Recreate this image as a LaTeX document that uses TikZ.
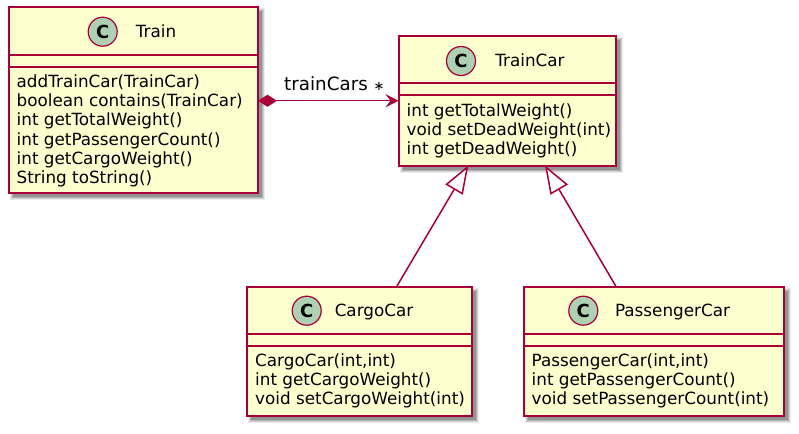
\documentclass[tikz,border=0pt]{standalone}
\usepackage{fontspec}
\setmainfont{DejaVu Sans}
\usetikzlibrary{arrows.meta}
\definecolor{umlborder}{HTML}{A80036}
\definecolor{umlfill}{HTML}{FEFECE}
\definecolor{umlbadge}{HTML}{ADD1B2}
\tikzset{
  classbox/.style={draw=umlborder, fill=umlfill, line width=2pt, inner sep=0pt, outer sep=0pt},
  sepline/.style={draw=umlborder, line width=2pt},
  badge/.style={circle, draw=umlborder, fill=umlbadge, line width=1.2pt, minimum size=29pt, inner sep=0pt,
    font=\fontsize{18}{18}\selectfont\bfseries},
  cname/.style={anchor=base, inner sep=0pt, font=\fontsize{16.8}{19}\selectfont},
  member/.style={anchor=base west, inner sep=0pt, font=\fontsize{16.8}{19}\selectfont},
  lbl/.style={anchor=base, inner sep=0pt, font=\fontsize{18.3}{19}\selectfont},
  mult/.style={anchor=base, inner sep=0pt, font=\fontsize{13}{13}\selectfont},
  assoc/.style={draw=umlborder, line width=1.5pt},
  inherit/.style={draw=umlborder, line width=1.5pt, -{Triangle[length=28pt,width=20pt,fill=white]}},
}
\newcommand\boxshadow[4]{%
  \foreach \e/\o in {3/0.08,2/0.11,1/0.14,0/0.18}{%
    \fill[black, opacity=\o] (#1+4-\e,#2+4-\e) rectangle (#3+4+\e,#4+4+\e);}%
}
\begin{document}
\begin{tikzpicture}[x=1pt, y=-1pt]
\useasboundingbox (0,0) rectangle (799,433);
% ---------- Train ----------
\boxshadow{8.5}{7.5}{258}{193}
\node[classbox, minimum width=249.5pt, minimum height=185.5pt] (train) at (133.25,100.25) {};
\draw[sepline] (train.west |- 0,55) -- (train.east |- 0,55);
\draw[sepline] (train.west |- 0,67) -- (train.east |- 0,67);
\node[badge] (train-c) at (102.7,31.7) {C};
\node[cname] (train-n) at (156,37.2) {Train};
\foreach \t [count=\i from 0] in {addTrainCar(TrainCar), boolean contains(TrainCar), int getTotalWeight(),
  int getPassengerCount(), int getCargoWeight(), String toString()}
  \node[member] (train-m\i) at (16.5,87.5+19.2*\i) {\t};
% ---------- TrainCar ----------
\boxshadow{398.5}{36}{615.5}{165.5}
\node[classbox, minimum width=217pt, minimum height=129.5pt] (traincar) at (507,100.75) {};
\draw[sepline] (traincar.west |- 0,83.5) -- (traincar.east |- 0,83.5);
\draw[sepline] (traincar.west |- 0,95.5) -- (traincar.east |- 0,95.5);
\node[badge] (traincar-c) at (461,61) {C};
\node[cname] (traincar-n) at (530,66.5) {TrainCar};
\foreach \t [count=\i from 0] in {int getTotalWeight(), void setDeadWeight(int), int getDeadWeight()}
  \node[member] (traincar-m\i) at (406.5,116.5+19.2*\i) {\t};
% ---------- CargoCar ----------
\boxshadow{247}{286.5}{471.5}{416}
\node[classbox, minimum width=224.5pt, minimum height=129.5pt] (cargocar) at (359.25,351.25) {};
\draw[sepline] (cargocar.west |- 0,333.5) -- (cargocar.east |- 0,333.5);
\draw[sepline] (cargocar.west |- 0,345.5) -- (cargocar.east |- 0,345.5);
\node[badge] (cargocar-c) at (306.7,310.7) {C};
\node[cname] (cargocar-n) at (374,316.2) {CargoCar};
\foreach \t [count=\i from 0] in {{CargoCar(int,int)}, int getCargoWeight(), void setCargoWeight(int)}
  \node[member] (cargocar-m\i) at (255,366.5+19.2*\i) {\t};
% ---------- PassengerCar ----------
\boxshadow{523.5}{286.5}{784}{416}
\node[classbox, minimum width=260.5pt, minimum height=129.5pt] (passcar) at (653.75,351.25) {};
\draw[sepline] (passcar.west |- 0,333.5) -- (passcar.east |- 0,333.5);
\draw[sepline] (passcar.west |- 0,345.5) -- (passcar.east |- 0,345.5);
\node[badge] (passcar-c) at (583.3,310.7) {C};
\node[cname] (passcar-n) at (672.5,316.2) {PassengerCar};
\foreach \t [count=\i from 0] in {{PassengerCar(int,int)}, int getPassengerCount(), void setPassengerCount(int)}
  \node[member] (passcar-m\i) at (531.5,366.5+19.2*\i) {\t};
% ---------- connectors ----------
\draw[assoc, {Diamond[length=19pt,width=12pt]}-{Stealth[length=13pt,width=13pt,inset=5pt]}]
  (train.east |- traincar.west) -- (traincar.west);
\node[lbl] (assoc-lbl) at (326,91) {trainCars};
\node[mult] (assoc-mult) at (379,91) {∗};
\coordinate (tc-a) at (468.3,165.5);
\coordinate (tc-b) at (545,165.5);
\coordinate (cc-top) at (396.7,286.5);
\coordinate (pc-top) at (616,286.5);
\draw[inherit] (cc-top) -- (tc-a);
\draw[inherit] (pc-top) -- (tc-b);
\end{tikzpicture}
\end{document}
